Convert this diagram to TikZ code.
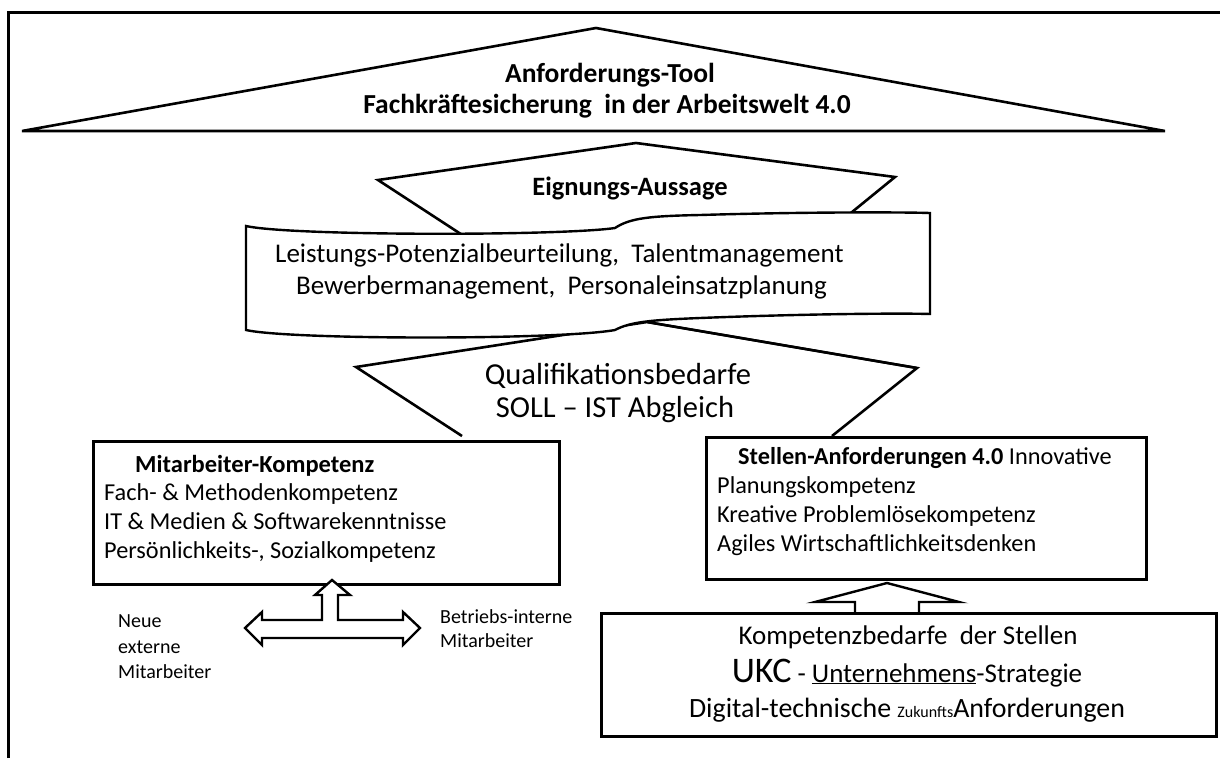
\documentclass[tikz,border=0pt]{standalone}
\usepackage{fontspec}
\setmainfont{Carlito}
\begin{document}
\begin{tikzpicture}[x=1pt,y=-1pt,
  shp/.style={draw=black,line width=2.6pt,line join=miter,fill=white},
  bx/.style={draw=black,line width=2.8pt,fill=white},
  blk/.style={draw=black,line width=2.4pt,line join=miter,fill=white},
  txt/.style={anchor=base west,inner sep=0pt,font=\fontsize{24.3}{28}\selectfont},
  ctxt/.style={anchor=base,inner sep=0pt,font=\fontsize{27}{31}\selectfont},
  btxt/.style={anchor=base,inner sep=0pt,font=\fontsize{27.5}{31}\selectfont\bfseries},
  smalltxt/.style={anchor=base west,inner sep=0pt,font=\fontsize{20}{23}\selectfont}]
\useasboundingbox (0,0) rectangle (1220,758);
% outer frame (partly cropped)
\draw[line width=3pt] (8,758) -- (8,12) -- (1220,12);
% roof
\draw[shp] (22,131) -- (596,28) -- (1165,131) -- cycle;
\node[btxt] (t1) at (610,82) {Anforderungs-Tool};
\node[btxt] (t2) at (607,113) {Fachkräftesicherung\ \ in der Arbeitswelt 4.0};
% Eignungs shape
\draw[shp] (470,240) -- (378,180) -- (636,143) -- (895,177) -- (830,230);
\node[btxt,font=\fontsize{26.5}{30}\selectfont\bfseries] (eig) at (630,195) {Eignungs-Aussage};
% Qualifikations shape
\draw[shp] (462,436) -- (356,367) -- (647,322) -- (917,368) -- (832,436);
% scroll
\draw[shp,line width=2.4pt] (246,226) .. controls (290,236) and (560,236) .. (615,228)
  .. controls (630,218) and (650,216) .. (700,215)
  .. controls (800,212) and (900,212) .. (930,213) -- (930,314)
  .. controls (900,313) and (800,314) .. (700,318)
  .. controls (650,320) and (630,322) .. (615,330)
  .. controls (560,340) and (290,340) .. (246,330) -- cycle;
\draw[line width=2.4pt] (647,322) -- (917,368);
\node[txt,font=\fontsize{27}{31}\selectfont] (l1) at (275,262) {Leistungs-Potenzialbeurteilung,\ \ Talentmanagement};
\node[txt,font=\fontsize{27}{31}\selectfont] (l2) at (296,294) {Bewerbermanagement,\ \ Personaleinsatzplanung};
\node[ctxt,font=\fontsize{30.5}{34}\selectfont] (q1) at (618,384) {Qualifikationsbedarfe};
\node[ctxt,font=\fontsize{30.5}{34}\selectfont] (q2) at (615,417) {SOLL -- IST Abgleich};
% boxes
\node[bx,minimum width=466pt,minimum height=143pt,anchor=north west,inner sep=0pt] (mk) at (92,440) {};
\node[bx,minimum width=440pt,minimum height=142pt,anchor=north west,inner sep=0pt] (sa) at (705,436) {};
% block arrows
\draw[blk] (855,613) -- (855,602) -- (815,602) -- (887,583) -- (959,602) -- (919,602) -- (919,613);
\draw[line width=2pt,black!70] (603,737) -- (1216,737);
\node[bx,minimum width=615pt,minimum height=123pt,anchor=north west,inner sep=0pt] (kb) at (600,612) {};
\draw[blk] (332,580) -- (350,595) -- (338,595) -- (338,620) -- (403,620) -- (403,612) -- (420,628)
  -- (403,645) -- (403,638) -- (262,638) -- (262,645) -- (245,628) -- (262,612) -- (262,620)
  -- (322,620) -- (322,595) -- (315,595) -- cycle;
% Mitarbeiter texts
\node[txt,font=\fontsize{24.5}{28}\selectfont\bfseries] (m0) at (135,472) {Mitarbeiter-Kompetenz};
\node[txt] (m1) at (104,500) {Fach- \& Methodenkompetenz};
\node[txt] (m2) at (104,529) {IT \& Medien \& Softwarekenntnisse};
\node[txt] (m3) at (104,558) {Persönlichkeits-, Sozialkompetenz};
% Stellen texts
\node[txt] (s0) at (738,464) {\textbf{Stellen-Anforderungen 4.0} Innovative};
\node[txt] (s1) at (717,493) {Planungskompetenz};
\node[txt] (s2) at (717,522) {Kreative Problemlösekompetenz};
\node[txt] (s3) at (717,551) {Agiles Wirtschaftlichkeitsdenken};
% side labels
\node[smalltxt] (n1) at (118,627) {Neue};
\node[smalltxt] (n2) at (118,653) {externe};
\node[smalltxt] (n3) at (118,678) {Mitarbeiter};
\node[smalltxt] (b1) at (440,623) {Betriebs-interne};
\node[smalltxt] (b2) at (440,647) {Mitarbeiter};
% Kompetenzbedarfe texts
\node[ctxt] (k1) at (908,644) {Kompetenzbedarfe\ \ der Stellen};
\node[ctxt] (k2) at (907,682) {{\fontsize{36}{40}\selectfont UKC} - \underline{Unternehmens}-Strategie};
\node[ctxt,font=\fontsize{27.9}{32}\selectfont] (k3) at (907,717) {Digital-technische {\fontsize{16}{18}\selectfont Zukunfts}Anforderungen};
\end{tikzpicture}
\end{document}
